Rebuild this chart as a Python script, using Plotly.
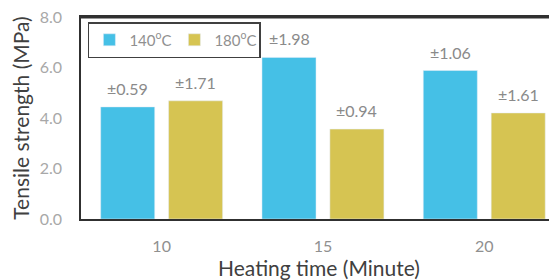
import plotly.graph_objects as go

categories = ["10", "15", "20"]
series_names = ["140<sup>o</sup>C", "180<sup>o</sup>C"]
values_140 = [4.44, 6.40, 5.88]
values_180 = [4.68, 3.56, 4.20]
err_140 = ["±0.59", "±1.98", "±1.06"]
err_180 = ["±1.71", "±0.94", "±1.61"]
y_ticks = [0, 2, 4, 6, 8]

blue = "#45c0e6"
yellow = "#d6c452"
font = "Lato"
xpos = list(range(len(categories)))

fig = go.Figure()
fig.add_trace(go.Bar(x=xpos, y=values_140, name=series_names[0], marker_color=blue,
                     width=0.335, offset=-0.378))
fig.add_trace(go.Bar(x=xpos, y=values_180, name=series_names[1], marker_color=yellow,
                     width=0.335, offset=0.043))

for i in range(len(categories)):
    fig.add_annotation(x=xpos[i] - 0.21, y=values_140[i], text=err_140[i], showarrow=False,
                       yanchor="bottom", yshift=7, font=dict(size=16, color="#8a8a8a", family=font))
    fig.add_annotation(x=xpos[i] + 0.21, y=values_180[i], text=err_180[i], showarrow=False,
                       yanchor="bottom", yshift=7, font=dict(size=16, color="#8a8a8a", family=font))

# top border of the plot frame
fig.add_shape(type="rect", xref="paper", yref="paper", x0=0, x1=1, y0=0.993, y1=1.0,
              line=dict(width=0), fillcolor="#303030", layer="above")

fig.update_layout(
    width=549, height=272,
    margin=dict(l=73, r=0, t=9, b=61, autoexpand=False),
    paper_bgcolor="white", plot_bgcolor="white",
    font=dict(family=font),
    showlegend=True,
    legend=dict(orientation="h", x=0.0145, y=0.975, xanchor="left", yanchor="top",
                bordercolor="#404040", borderwidth=1.5, bgcolor="white",
                font=dict(size=15, color="#909090", family=font),
                itemwidth=30, tracegroupgap=0, entrywidth=40),
    xaxis=dict(range=[-0.5, 2.451], tickvals=xpos, ticktext=categories,
               showline=True, mirror=True, linecolor="#303030", linewidth=1.5,
               showgrid=False, zeroline=False, ticks="", automargin=False,
               ticklabelstandoff=12, ticklabeloverflow="allow",
               tickfont=dict(size=16, color="#909090"),
               title=dict(text="Heating time (Minute)", font=dict(size=21, color="#404040"), standoff=4)),
    yaxis=dict(range=[0, 8], tickvals=y_ticks, tickformat=".1f",
               showline=True, linecolor="#303030", linewidth=1.5,
               showgrid=False, zeroline=False, ticks="", automargin=False,
               ticklabelstandoff=14, ticklabeloverflow="allow",
               tickfont=dict(size=16, color="#a8a8a8"),
               title=dict(text="Tensile strength (MPa)", font=dict(size=21, color="#404040"), standoff=8)),
)

fig.write_html("out.html", config={"displayModeBar": False})
